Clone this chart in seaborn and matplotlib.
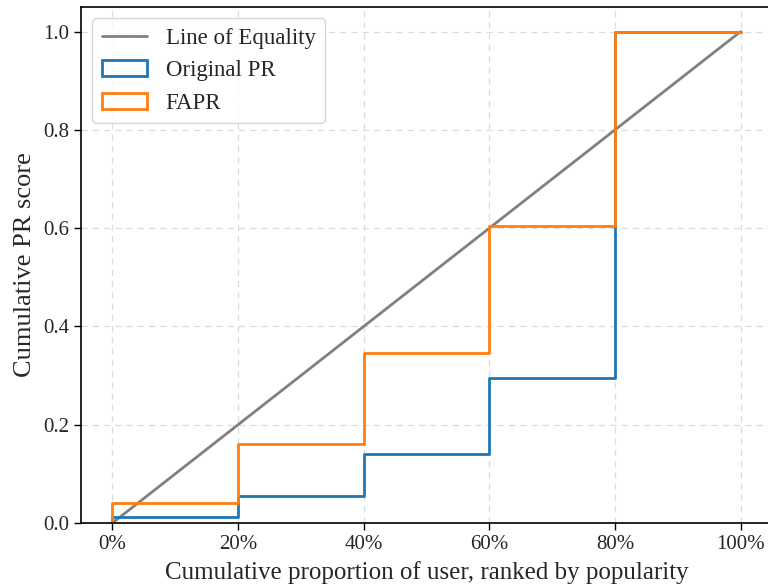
import numpy as np
import pandas as pd
import matplotlib
matplotlib.use("Agg")
import matplotlib.pyplot as plt
from matplotlib.patches import Patch
from matplotlib.lines import Line2D
import seaborn as sns

# Data
group_edges = [0.0, 0.2, 0.4, 0.6, 0.8, 1.0]
orig_cum = [0.012, 0.055, 0.14, 0.295, 1.0]
fapr_cum = [0.04, 0.16, 0.345, 0.605, 1.0]
x_ticks = [0.0, 0.2, 0.4, 0.6, 0.8, 1.0]
x_tick_labels = ["0%", "20%", "40%", "60%", "80%", "100%"]
y_ticks = [0.0, 0.2, 0.4, 0.6, 0.8, 1.0]

sns.set_style("ticks")
plt.rcParams["font.family"] = ["Liberation Serif", "DejaVu Serif"]

fig = plt.figure(figsize=(7.68, 5.86), dpi=100)
ax = fig.add_axes([81 / 768, 63 / 586, 691 / 768, 516 / 586])

eq = pd.DataFrame({"x": [0.0, 1.0], "y": [0.0, 1.0]})
sns.lineplot(data=eq, x="x", y="y", ax=ax, color="gray", linewidth=2,
             legend=False)

pal = sns.color_palette("tab10")


def step_frame(cum):
    xs = [group_edges[0]] + list(group_edges)
    ys = [0.0] + list(cum) + [cum[-1]]
    return pd.DataFrame({"x": xs, "y": ys})


sns.lineplot(data=step_frame(orig_cum), x="x", y="y", ax=ax, color=pal[0],
             linewidth=2, drawstyle="steps-post", legend=False, sort=False,
             estimator=None)
sns.lineplot(data=step_frame(fapr_cum), x="x", y="y", ax=ax, color=pal[1],
             linewidth=2, drawstyle="steps-post", legend=False, sort=False,
             estimator=None)

ax.set_xlim(-0.05, 1.05)
ax.set_ylim(0, 1.05)
ax.set_xticks(x_ticks)
ax.set_xticklabels(x_tick_labels)
ax.set_yticks(y_ticks)
ax.set_yticklabels([f"{v:.1f}" for v in y_ticks])
ax.tick_params(labelsize=15, width=1, length=5, color="black")
ax.grid(True, linestyle=(0, (5, 4)), color="#dcdcdc", linewidth=0.9)
for s in ax.spines.values():
    s.set_visible(True)
    s.set_color("black")
    s.set_linewidth(1.2)

ax.set_xlabel("Cumulative proportion of user, ranked by popularity",
              fontsize=18, labelpad=5)
ax.set_ylabel("Cumulative PR score", fontsize=19, labelpad=5)

handles = [
    Line2D([0], [0], color="gray", linewidth=2),
    Patch(facecolor="none", edgecolor=pal[0], linewidth=2),
    Patch(facecolor="none", edgecolor=pal[1], linewidth=2),
]
ax.legend(handles, ["Line of Equality", "Original PR", "FAPR"],
          loc="upper left", fontsize=16.5, frameon=True, framealpha=0.8,
          edgecolor="#cccccc", fancybox=True)

fig.savefig("out.png", dpi=100)
